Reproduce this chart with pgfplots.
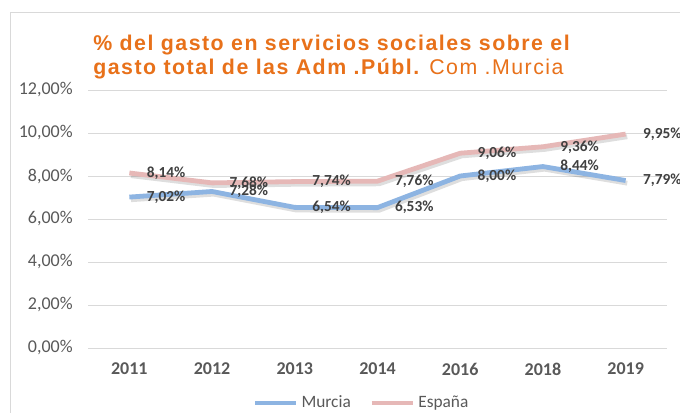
\documentclass[border=0pt]{standalone}
\usepackage{pgfplots}
\pgfplotsset{compat=1.18}
\usepackage{fontspec}
\setmainfont{Carlito}
\newfontfamily\titlefont[LetterSpace=7]{Liberation Sans}
\definecolor{murcia}{RGB}{141,180,226}
\definecolor{espana}{RGB}{230,184,183}
\definecolor{titleor}{RGB}{232,113,26}
\definecolor{tickgray}{RGB}{89,89,89}
\definecolor{lblgray}{RGB}{64,64,64}
\definecolor{gridgray}{RGB}{217,217,217}
\begin{document}
\begin{tikzpicture}
\useasboundingbox (0,0) rectangle (510pt,309pt);
\fill[white] (0,0) rectangle (510pt,309pt);
\draw[gridgray, line width=0.75pt] (7.5pt,-10pt) rectangle (530pt,300pt);
\node[anchor=base west, inner sep=0pt, text=titleor, font=\titlefont\fontsize{16}{19}\selectfont\bfseries] at (69.75pt,271pt) {\% del gasto en servicios sociales sobre el};
\node[anchor=base west, inner sep=0pt, text=titleor, font=\titlefont\fontsize{16}{19}\selectfont] at (69.75pt,253.5pt) {\textbf{gasto total de las Adm .Públ.}\kern-1pt{} Com .Murcia};
\begin{axis}[
  at={(66pt,48pt)}, anchor=south west,
  scale only axis, width=434.25pt, height=193.5pt,
  xmin=-0.5, xmax=6.5, ymin=0, ymax=12,
  xtick={0,...,6},
  xticklabels={2011,2012,2013,2014,2016,2018,2019},
  ytick={0,2,...,12},
  ymajorgrids, grid style={gridgray, line width=0.75pt},
  axis line style={draw=none},
  major tick length=0pt,
  yticklabel={\pgfmathprintnumber[fixed,fixed zerofill,precision=2,use comma,assume math mode=true]{\tick}\%},
  yticklabel style={font=\fontsize{13.5}{15}\selectfont, text=tickgray, anchor=east, xshift=-8pt},
  xticklabel style={font=\fontsize{13.5}{15}\selectfont\bfseries, text=tickgray, yshift=-7.5pt},
  every node near coord/.append style={font=\fontsize{11.5}{13}\selectfont\bfseries, text=lblgray, anchor=west, xshift=8pt},
  legend style={at={(0.473,-0.213)}, anchor=center, draw=none, fill=none, legend columns=2,
    font=\fontsize{13}{15}\selectfont, text=tickgray,
    /tikz/every even column/.append style={column sep=12pt}},
  legend image code/.code={\draw[#1] (0pt,0pt) -- (31pt,0pt);},
  clip=false,
]
\addplot[forget plot, draw=none, line width=3.6pt, line join=round,
  preaction={draw=black, opacity=0.13, line width=3.6pt, transform canvas={xshift=1.2pt,yshift=-2pt}}]
  coordinates {(0,7.02) (1,7.28) (2,6.54) (3,6.53) (4,8.00) (5,8.44) (6,7.79)};
\addplot[forget plot, draw=none, line width=3.6pt, line join=round,
  preaction={draw=black, opacity=0.13, line width=3.6pt, transform canvas={xshift=1.2pt,yshift=-2pt}}]
  coordinates {(0,8.14) (1,7.68) (2,7.74) (3,7.76) (4,9.06) (5,9.36) (6,9.95)};
\addplot[murcia, line width=3.6pt, line join=round,
  nodes near coords={\pgfmathprintnumber[fixed,fixed zerofill,precision=2,use comma,assume math mode=true]{\pgfplotspointmeta}\%}]
  coordinates {(0,7.02) (1,7.28) (2,6.54) (3,6.53) (4,8.00) (5,8.44) (6,7.79)};
\addlegendentry{Murcia}
\addplot[espana, line width=3.6pt, line join=round,
  nodes near coords={\pgfmathprintnumber[fixed,fixed zerofill,precision=2,use comma,assume math mode=true]{\pgfplotspointmeta}\%}]
  coordinates {(0,8.14) (1,7.68) (2,7.74) (3,7.76) (4,9.06) (5,9.36) (6,9.95)};
\addlegendentry{España}
\end{axis}
\end{tikzpicture}
\end{document}
